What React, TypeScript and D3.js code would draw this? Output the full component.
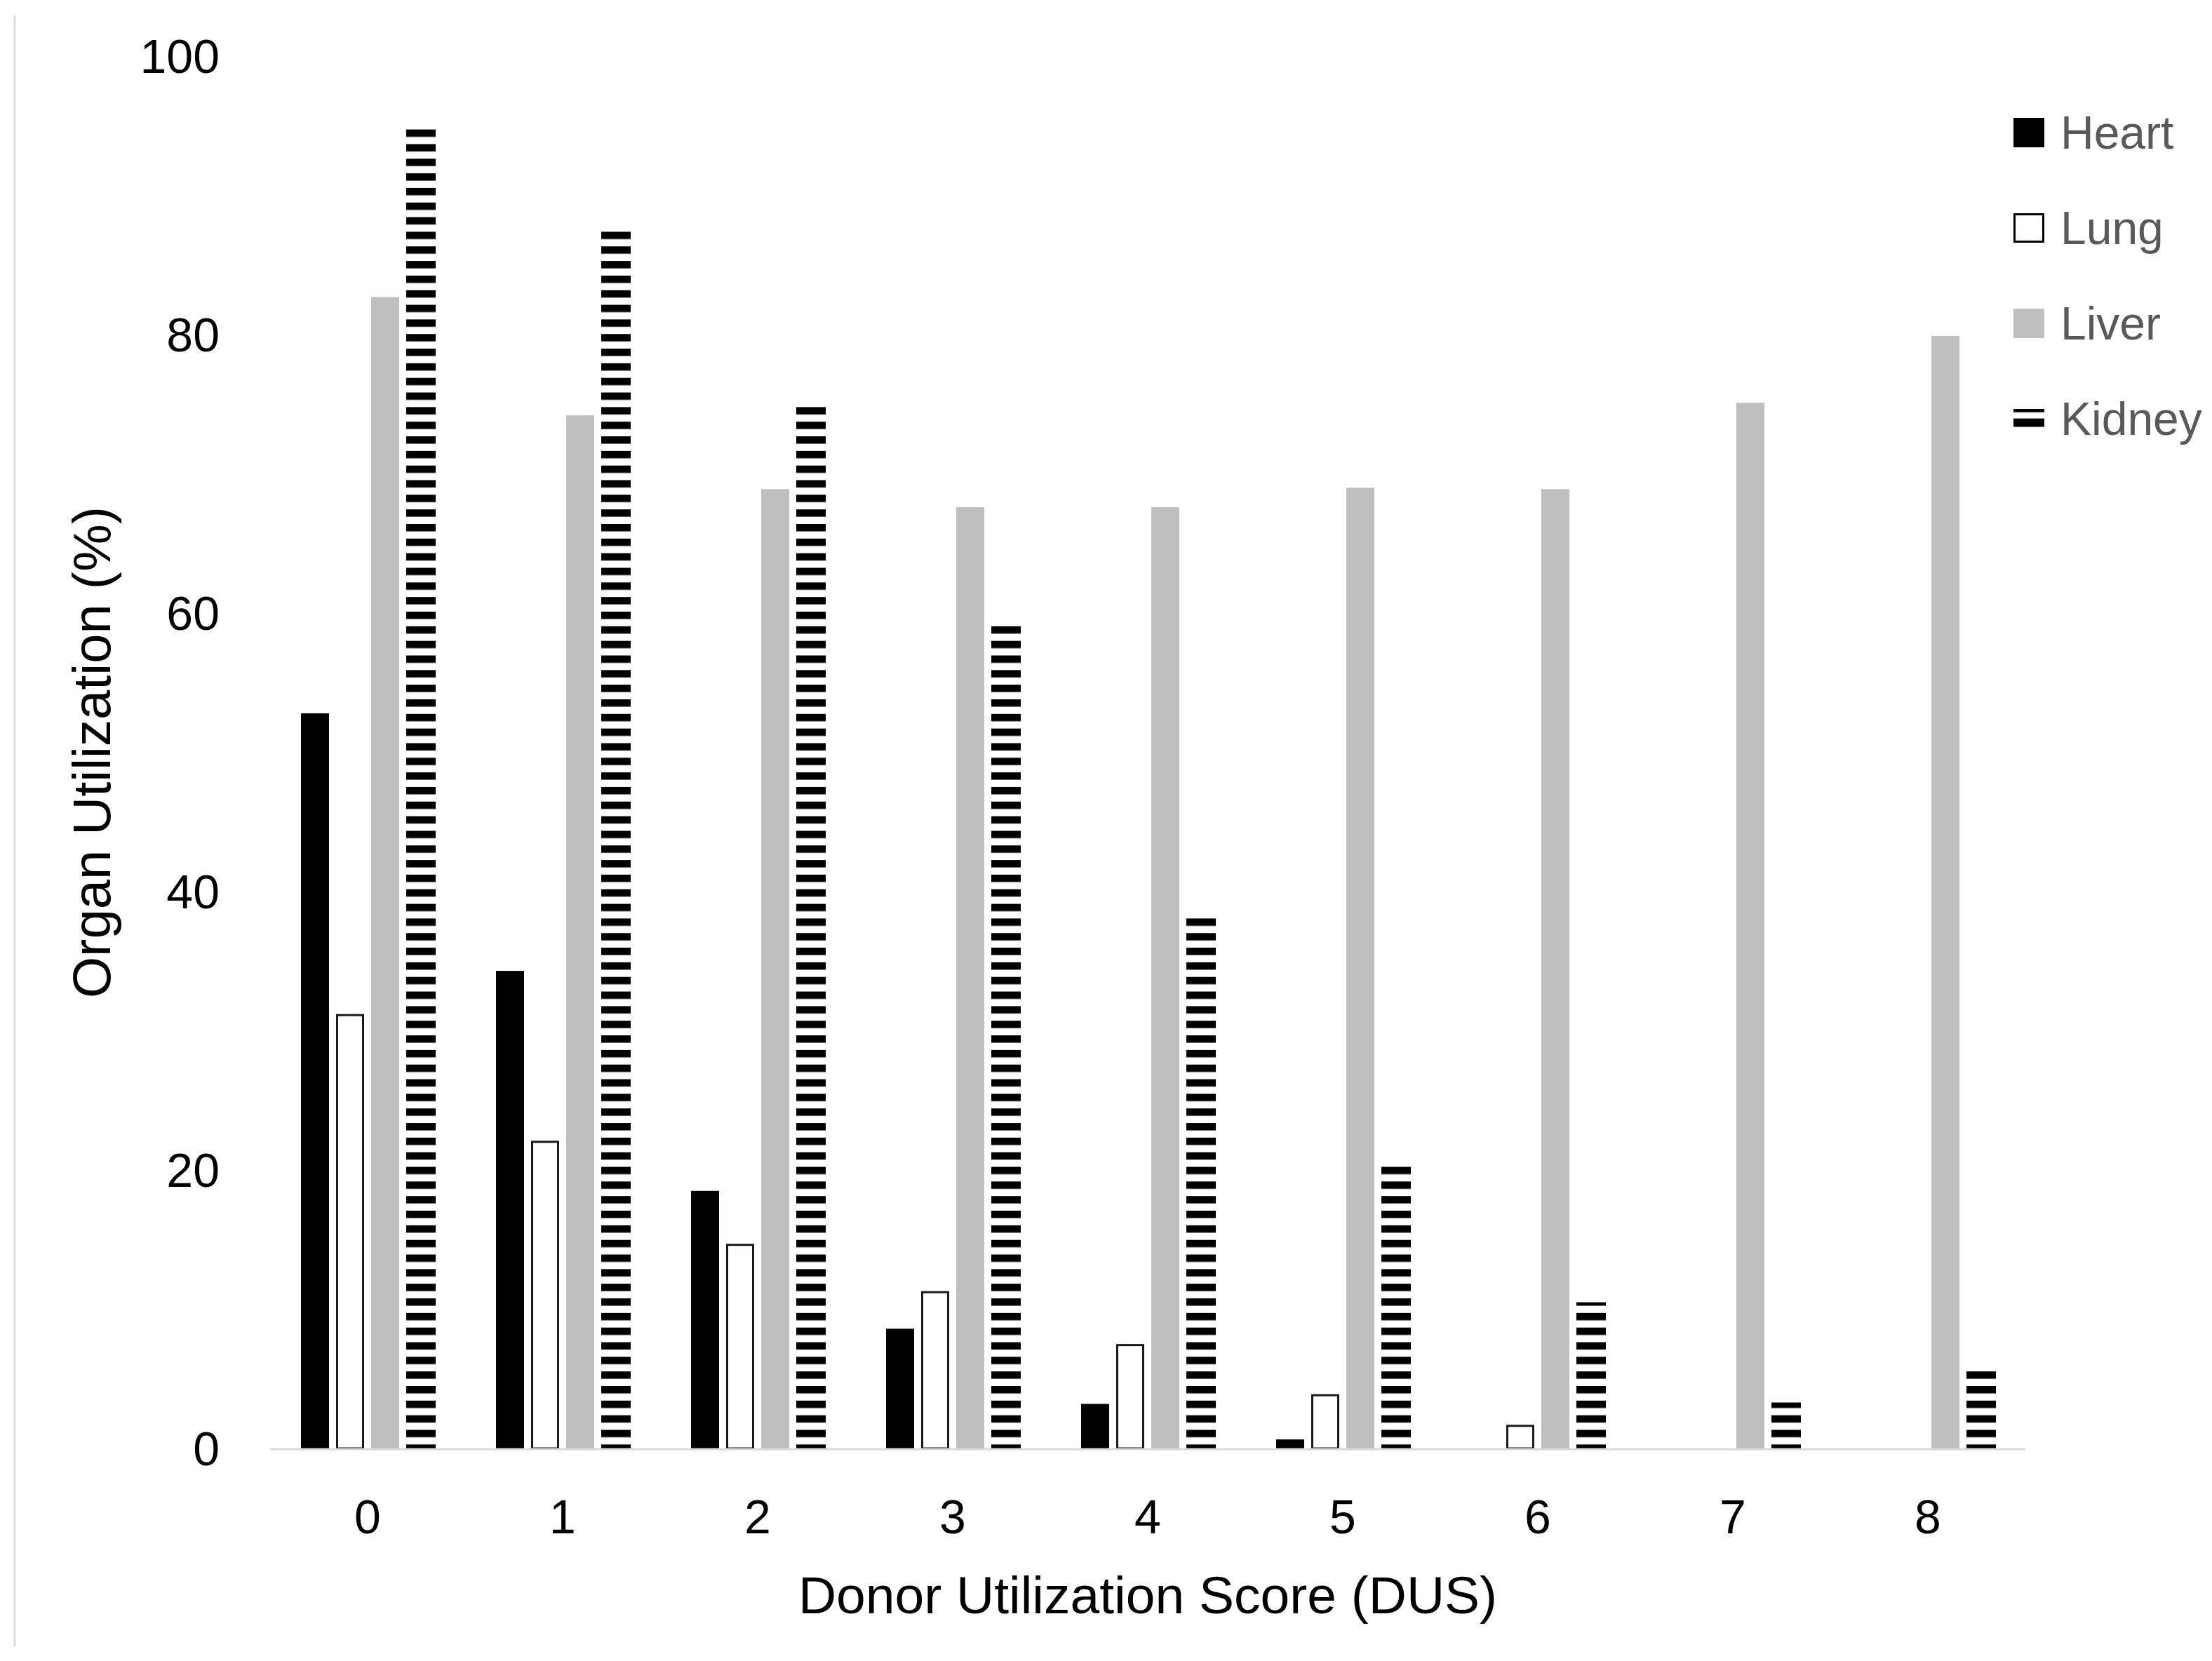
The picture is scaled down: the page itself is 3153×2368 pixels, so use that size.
import React, { useEffect, useRef } from 'react';
import * as d3 from 'd3';

// DUS categories and organ utilization (%) per organ
const categories = ['0', '1', '2', '3', '4', '5', '6', '7', '8'];
const series = ['Heart', 'Lung', 'Liver', 'Kidney'];
const heart = [52.8, 34.3, 18.5, 8.6, 3.2, 0.65, 0, 0, 0];
const lung = [31.2, 22.1, 14.7, 11.3, 7.5, 3.9, 1.7, 0, 0];
const liver = [82.7, 74.2, 68.9, 67.6, 67.6, 69.0, 68.9, 75.1, 79.9];
const kidney = [95.1, 87.8, 75.2, 59.2, 38.4, 20.4, 10.5, 3.3, 5.7];
const yTicks = [0, 20, 40, 60, 80, 100];

const W = 3153;
const H = 2368;

function App() {
    const svgRef = useRef(null);

    useEffect(() => {
        document.body.style.margin = '0';

        const svg = d3.select(svgRef.current);
        svg.selectAll('*').remove();
        svg.attr('width', W).attr('height', H).style('display', 'block').style('background', '#fff');

        const margin = {left: 385, right: 266, top: 80, bottom: 303};
        const baseY = H - margin.bottom;

        const x0 = d3.scaleBand()
            .domain(categories)
            .range([margin.left, W - margin.right])
            .padding(0);

        const x1 = d3.scaleBand()
            .domain(series)
            .range([-100, 100])
            .paddingInner(0.2)
            .paddingOuter(0.1);

        const y = d3.scaleLinear()
            .domain([0, 100])
            .range([baseY, margin.top]);

        // stripes for kidney
        const defs = svg.append('defs');
        const period = 20.83;
        const mkPattern = (id, y0, stripe) => {
            const p = defs.append('pattern')
                .attr('id', id)
                .attr('patternUnits', 'userSpaceOnUse')
                .attr('x', 0)
                .attr('y', y0)
                .attr('width', 10)
                .attr('height', period);
            p.append('rect').attr('width', 10).attr('height', period).attr('fill', '#fff');
            p.append('rect').attr('width', 10).attr('height', stripe).attr('fill', '#000');
        };
        mkPattern('kidneyStripes', baseY - 5.7, 10.5);

        // frame line on the left
        svg.append('line')
            .attr('x1', 21).attr('x2', 21)
            .attr('y1', 22).attr('y2', 2347)
            .attr('stroke', '#d9d9d9')
            .attr('stroke-width', 2.5);

        const data = categories.map((c, i) => ({
            cat: c,
            Heart: heart[i],
            Lung: lung[i],
            Liver: liver[i],
            Kidney: kidney[i],
        }));

        const groups = svg.append('g')
            .selectAll('g')
            .data(data)
            .join('g')
            .attr('transform', d => `translate(${x0(d.cat) + x0.bandwidth() / 2}, 0)`);

        // heart
        groups.append('rect')
            .attr('x', x1('Heart'))
            .attr('y', d => y(d.Heart))
            .attr('width', x1.bandwidth())
            .attr('height', d => baseY - y(d.Heart))
            .attr('fill', '#000');

        // lung (outlined)
        groups.filter(d => d.Lung > 0).append('rect')
            .attr('x', x1('Lung') + 1.5)
            .attr('y', d => y(d.Lung) + 1.5)
            .attr('width', x1.bandwidth() - 3)
            .attr('height', d => Math.max(0, baseY - y(d.Lung) - 1.5))
            .attr('fill', '#fff')
            .attr('stroke', '#1a1a1a')
            .attr('stroke-width', 3);

        // liver
        groups.append('rect')
            .attr('x', x1('Liver'))
            .attr('y', d => y(d.Liver))
            .attr('width', x1.bandwidth())
            .attr('height', d => baseY - y(d.Liver))
            .attr('fill', '#bfbfbf');

        // kidney
        groups.append('rect')
            .attr('x', x1('Kidney'))
            .attr('y', d => y(d.Kidney))
            .attr('width', x1.bandwidth() + 2)
            .attr('height', d => baseY - y(d.Kidney))
            .attr('fill', 'url(#kidneyStripes)');

        // baseline
        svg.append('line')
            .attr('x1', margin.left).attr('x2', W - margin.right)
            .attr('y1', baseY + 1).attr('y2', baseY + 1)
            .attr('stroke', '#d9d9d9')
            .attr('stroke-width', 3);

        const font = '"Liberation Sans", Arial, sans-serif';

        // y tick labels
        svg.append('g')
            .selectAll('text')
            .data(yTicks)
            .join('text')
            .attr('x', 313)
            .attr('y', d => y(d))
            .attr('dy', '0.35em')
            .attr('text-anchor', 'end')
            .style('font-family', font)
            .style('font-size', '68px')
            .attr('fill', '#000')
            .text(d => d);

        // x tick labels
        svg.append('g')
            .selectAll('text')
            .data(categories)
            .join('text')
            .attr('x', d => x0(d) + x0.bandwidth() / 2)
            .attr('y', 2162)
            .attr('dy', '0.35em')
            .attr('text-anchor', 'middle')
            .style('font-family', font)
            .style('font-size', '68px')
            .attr('fill', '#000')
            .text(d => d);

        // axis titles
        svg.append('text')
            .attr('x', (margin.left + W - margin.right) / 2)
            .attr('y', 2300)
            .attr('text-anchor', 'middle')
            .style('font-family', font)
            .style('font-size', '75px')
            .attr('fill', '#000')
            .text('Donor Utilization Score (DUS)');

        svg.append('text')
            .attr('transform', `translate(157, ${(y(0) + y(100)) / 2}) rotate(-90)`)
            .attr('text-anchor', 'middle')
            .style('font-family', font)
            .style('font-size', '76px')
            .attr('fill', '#000')
            .text('Organ Utilization (%)');

        // legend
        const legendTop = 168;
        const legendStep = 136;
        mkPattern('kidneyLegend', legendTop + 3 * legendStep + 7, 12);
        const legendFill = {Heart: '#000', Lung: '#fff', Liver: '#bfbfbf', Kidney: 'url(#kidneyLegend)'};
        const legend = svg.append('g')
            .selectAll('g')
            .data(series)
            .join('g')
            .attr('transform', (d, i) => `translate(2870, ${legendTop + i * legendStep})`);

        legend.append('rect')
            .attr('x', d => d === 'Lung' ? 1.5 : 0)
            .attr('y', d => d === 'Lung' ? 1.5 : d === 'Kidney' ? 7 : 0)
            .attr('width', d => d === 'Lung' ? 41 : 44)
            .attr('height', d => d === 'Lung' ? 39 : d === 'Kidney' ? 33 : 42)
            .attr('fill', d => legendFill[d])
            .attr('stroke', d => d === 'Lung' ? '#000' : 'none')
            .attr('stroke-width', 3);

        legend.append('text')
            .attr('x', 67)
            .attr('y', 44)
            .style('font-family', font)
            .style('font-size', '66px')
            .attr('fill', '#595959')
            .text(d => d);
    }, []);

    return <svg ref={svgRef}/>;
}

export default App;
